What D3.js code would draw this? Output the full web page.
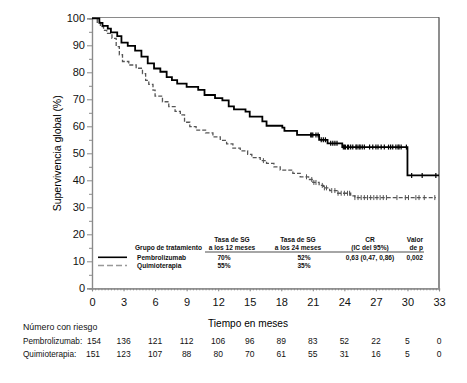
<!DOCTYPE html>
<html>
<head>
<meta charset="utf-8">
<script src="https://cdn.jsdelivr.net/npm/d3@7"></script>
<style>
  body { margin: 0; background: #fff; }
  svg { font-family: "Liberation Sans", Arial, sans-serif; }
</style>
</head>
<body>
<script>
// Kaplan-Meier step data (time in months, survival %)
const pembroTimes = [0, 0.7, 1.0, 1.5, 1.8, 2.4, 2.8, 3.4, 4.1, 4.7, 5.3, 5.9, 6.5, 7.1, 7.6, 8.1, 9.0, 10.1, 10.7, 11.7, 12.4, 13.0, 13.5, 14.6, 15.0, 16.2, 16.6, 18.1, 18.3, 19.5, 21.6, 22.4, 23.8, 30.0];
const pembroSurv  = [100, 98.3, 97.2, 96.2, 94.8, 93.4, 91.0, 89.8, 88.0, 85.8, 83.3, 81.4, 80.2, 78.2, 77.1, 75.8, 74.6, 73.5, 71.6, 70.4, 69.6, 67.4, 66.3, 65.4, 63.6, 61.8, 60.2, 59.5, 58.3, 56.8, 55.0, 53.7, 52.3, 41.8];
const pembroEnd = 33;
const pembroCensor = [20.8, 20.9, 21.0, 21.3, 21.5, 21.8, 22.0, 22.2, 22.7, 22.9, 23.1, 23.3, 23.9, 24.0, 24.1, 24.3, 24.4, 24.6, 24.8, 25.1, 25.2, 25.4, 25.5, 25.7, 25.9, 26.4, 26.7, 27.0, 27.2, 27.5, 27.8, 28.2, 28.4, 28.6, 28.9, 29.1, 29.2, 29.4, 29.9, 30.4, 31.4, 32.7];

const chemoTimes = [0, 0.5, 0.8, 1.1, 1.4, 1.9, 2.3, 2.6, 2.9, 3.5, 4.2, 4.8, 5.1, 5.4, 5.8, 6.0, 6.7, 7.3, 7.9, 8.4, 8.8, 9.3, 9.9, 10.8, 11.5, 12.2, 12.8, 13.4, 14.1, 14.8, 15.2, 16.0, 16.6, 17.3, 17.9, 19.1, 19.8, 20.6, 21.0, 21.6, 22.0, 22.6, 23.3, 24.6, 25.0];
const chemoSurv  = [100, 98.5, 96.9, 95.5, 94.4, 92.6, 89.5, 86.5, 84.0, 82.7, 81.5, 79.5, 77.0, 75.5, 73.4, 71.2, 69.1, 67.3, 65.5, 64.2, 61.5, 59.9, 58.6, 57.6, 56.1, 54.8, 53.5, 51.9, 50.9, 49.6, 48.4, 47.3, 46.3, 45.0, 43.8, 42.6, 41.3, 40.3, 39.2, 38.1, 37.2, 36.2, 35.2, 34.2, 33.6];
const chemoEnd = 32.7;
const chemoCensor = [16.3, 20.4, 20.9, 21.1, 21.3, 21.9, 22.1, 22.3, 22.8, 23.1, 23.4, 23.7, 24.0, 24.3, 24.5, 25.0, 25.3, 25.6, 25.9, 26.2, 26.5, 26.8, 27.1, 27.4, 27.7, 28.0, 29.0, 29.8, 30.1, 30.8, 31.1, 31.6, 32.6];

const xTicks = d3.range(0, 34, 3);
const yTicks = d3.range(0, 101, 10);

// legend table
const groups = ["Pembrolizumab", "Quimioterapia"];
const rate12 = ["70%", "55%"];
const rate24 = ["52%", "35%"];
const hrText = ["0,63 (0,47, 0,86)", ""];
const pText = ["0,002", ""];

// number at risk
const riskPembro = [154, 136, 121, 112, 106, 96, 89, 83, 52, 22, 5, 0];
const riskChemo  = [151, 123, 107, 88, 80, 70, 61, 55, 31, 16, 5, 0];

const width = 467, height = 383;
const x = d3.scaleLinear([0, 33], [92, 439]);
const y = d3.scaleLinear([0, 100], [288.3, 18.3]);

const svg = d3.select("body").append("svg")
    .attr("width", width)
    .attr("height", height);

// frame (top and right)
svg.append("line").attr("x1", x(0)).attr("x2", x(33)).attr("y1", y(100) - 0.8).attr("y2", y(100) - 0.8)
    .attr("stroke", "#8a8a8a").attr("stroke-width", 1);
svg.append("line").attr("x1", x(33)).attr("x2", x(33)).attr("y1", y(100) - 1).attr("y2", y(0))
    .attr("stroke", "#444").attr("stroke-width", 1.2);

// axes
const xAxis = svg.append("g").attr("transform", `translate(0,${y(0)})`)
    .call(d3.axisBottom(x).tickValues(xTicks).tickSize(3).tickPadding(7));
const xMinor = svg.append("g").attr("transform", `translate(0,${y(0)})`)
    .call(d3.axisBottom(x).tickValues(d3.range(0, 110).map(i => i * 0.3)).tickSize(2).tickFormat(""));
const yAxis = svg.append("g").attr("transform", `translate(${x(0)},0)`)
    .call(d3.axisLeft(y).tickValues(yTicks).tickSize(5).tickPadding(2));
const yMinor = svg.append("g").attr("transform", `translate(${x(0)},0)`)
    .call(d3.axisLeft(y).tickValues(d3.range(5, 100, 10)).tickSize(3).tickFormat(""));

[xAxis, xMinor, yAxis, yMinor].forEach(g => {
  g.select(".domain").attr("stroke", "#8a8a8a").attr("stroke-width", 1.2);
  g.selectAll(".tick line").attr("stroke", "#8a8a8a");
});
[xAxis, yAxis].forEach(g => g.selectAll("text").attr("font-size", 11).attr("fill", "#111")
    .attr("font-family", "Liberation Sans, Arial, sans-serif"));

// axis titles
svg.append("text")
    .attr("transform", `translate(61,${(y(0) + y(100)) / 2}) rotate(-90)`)
    .attr("text-anchor", "middle")
    .attr("font-size", 10)
    .attr("textLength", 116)
    .attr("lengthAdjust", "spacingAndGlyphs")
    .text("Supervivencia global (%)");

svg.append("text")
    .attr("x", 248).attr("y", 327)
    .attr("text-anchor", "middle")
    .attr("font-size", 11)
    .attr("textLength", 80)
    .attr("lengthAdjust", "spacingAndGlyphs")
    .text("Tiempo en meses");

// curves
function stepData(times, surv, end) {
  const pts = times.map((t, i) => [t, surv[i]]);
  pts.push([end, surv[surv.length - 1]]);
  return pts;
}
function survAt(times, surv, t) {
  const i = d3.bisectRight(times, t) - 1;
  return surv[Math.max(0, i)];
}
const line = d3.line().x(d => x(d[0])).y(d => y(d[1])).curve(d3.curveStepAfter);

svg.append("path")
    .attr("d", line(stepData(chemoTimes, chemoSurv, chemoEnd)))
    .attr("fill", "none")
    .attr("stroke", "#555")
    .attr("stroke-width", 1.3)
    .attr("stroke-dasharray", "4,2");

svg.append("g").selectAll("line")
  .data(chemoCensor)
  .join("line")
    .attr("x1", d => x(d)).attr("x2", d => x(d))
    .attr("y1", d => y(survAt(chemoTimes, chemoSurv, d)) - 2.5)
    .attr("y2", d => y(survAt(chemoTimes, chemoSurv, d)) + 2.5)
    .attr("stroke", "#555").attr("stroke-width", 1);

svg.append("path")
    .attr("d", line(stepData(pembroTimes, pembroSurv, pembroEnd)))
    .attr("fill", "none")
    .attr("stroke", "#000")
    .attr("stroke-width", 1.8);

svg.append("g").selectAll("line")
  .data(pembroCensor)
  .join("line")
    .attr("x1", d => x(d)).attr("x2", d => x(d))
    .attr("y1", d => y(survAt(pembroTimes, pembroSurv, d)) - 2.5)
    .attr("y2", d => y(survAt(pembroTimes, pembroSurv, d)) + 2.5)
    .attr("stroke", "#000").attr("stroke-width", 1.2);

// legend table
const leg = svg.append("g")
    .attr("font-size", 6.6)
    .attr("font-weight", "bold")
    .attr("fill", "#111");

const cols = [
  {x: 232, anchor: "middle", h1: "Tasa de SG", h2: "a los 12 meses", vals: rate12, vx: 224},
  {x: 298, anchor: "middle", h1: "Tasa de SG", h2: "a los 24 meses", vals: rate24, vx: 304},
  {x: 370, anchor: "middle", h1: "CR", h2: "(IC del 95%)", vals: hrText, vx: 370},
  {x: 423, anchor: "end", h1: "Valor", h2: "de p", vals: pText, vx: 423}
];
cols.forEach(c => {
  leg.append("text").attr("x", c.x).attr("y", 241.5).attr("text-anchor", c.anchor).text(c.h1);
  leg.append("text").attr("x", c.x).attr("y", 250).attr("text-anchor", c.anchor).text(c.h2);
  c.vals.forEach((v, i) => {
    leg.append("text").attr("x", c.vx).attr("y", 259.5 + i * 8).attr("text-anchor", c.anchor === "end" ? "end" : "middle").text(v);
  });
});
leg.append("text").attr("x", 202).attr("y", 250).attr("text-anchor", "end").text("Grupo de tratamiento");
svg.append("line").attr("x1", 205).attr("x2", 424).attr("y1", 252).attr("y2", 252)
    .attr("stroke", "#888").attr("stroke-width", 1.4);

groups.forEach((g, i) => {
  leg.append("text").attr("x", 137).attr("y", 259.5 + i * 8).text(g);
});
svg.append("line").attr("x1", 98).attr("x2", 127).attr("y1", 257.3).attr("y2", 257.3)
    .attr("stroke", "#000").attr("stroke-width", 1.6);
svg.append("line").attr("x1", 98).attr("x2", 127).attr("y1", 265.5).attr("y2", 265.5)
    .attr("stroke", "#999").attr("stroke-width", 1.4).attr("stroke-dasharray", "6,3");

// number at risk
const risk = svg.append("g").attr("font-size", 8.5).attr("fill", "#111");
const riskLabels = [
  {t: "Número con riesgo", y: 330, fs: 8.8},
  {t: "Pembrolizumab:", y: 344, fs: 8.2},
  {t: "Quimioterapia:", y: 357, fs: 8.2}
];
riskLabels.forEach(l => {
  risk.append("text").attr("x", 23).attr("y", l.y).attr("font-size", l.fs).text(l.t);
});
risk.selectAll(".rp").data(riskPembro).join("text")
    .attr("class", "rp")
    .attr("x", (d, i) => x(xTicks[i]) + (i === 0 ? 2 : 0)).attr("y", 344)
    .attr("text-anchor", "middle").text(d => d);
risk.selectAll(".rc").data(riskChemo).join("text")
    .attr("class", "rc")
    .attr("x", (d, i) => x(xTicks[i]) + (i === 0 ? 1 : 0)).attr("y", 357)
    .attr("text-anchor", "middle").text(d => d);
</script>
</body>
</html>
